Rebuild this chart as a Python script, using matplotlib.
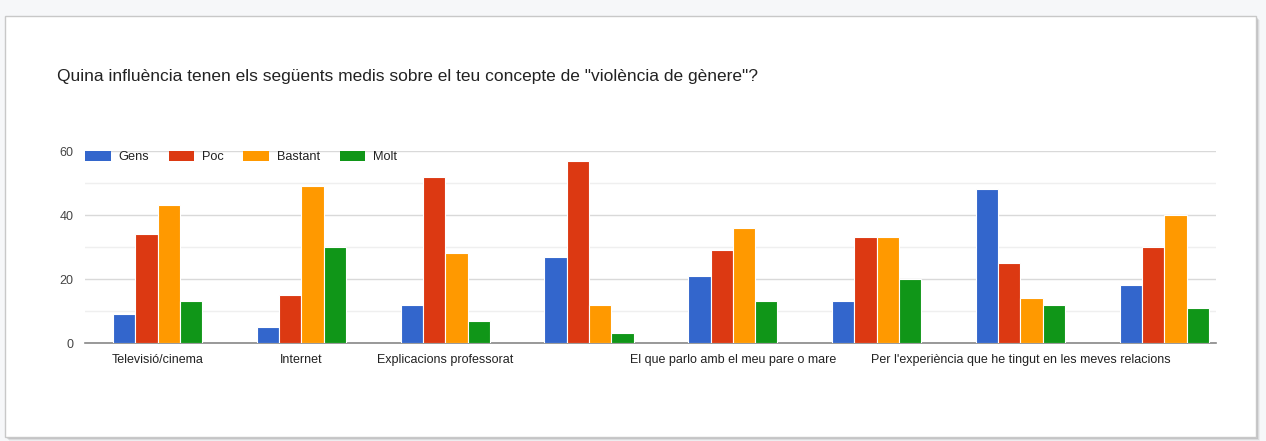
import numpy as np
import matplotlib
matplotlib.use('Agg')
import matplotlib.pyplot as plt
from matplotlib.patches import Rectangle, Patch

plt.rcParams['font.family'] = ['Liberation Sans', 'DejaVu Sans']

title = 'Quina influència tenen els següents medis sobre el teu concepte de "violència de gènere"?'
# only some category labels are shown on the original axis; hidden ones left blank
categories = ['Televisió/cinema', 'Internet', 'Explicacions professorat', '',
              'El que parlo amb el meu pare o mare', '',
              "Per l'experiència que he tingut en les meves relacions", '']
series = ['Gens', 'Poc', 'Bastant', 'Molt']
gens    = [9, 5, 12, 27, 21, 13, 48, 18]
poc     = [34, 15, 52, 57, 29, 33, 25, 30]
bastant = [43, 49, 28, 12, 36, 33, 14, 40]
molt    = [13, 30, 7, 3, 13, 20, 12, 11]
colors = ['#3366cc', '#dc3912', '#ff9900', '#109618']

W, H = 1266, 441
fig = plt.figure(figsize=(W / 100, H / 100), dpi=100)
fig.patch.set_facecolor('#f6f7f9')

# card with a soft shadow
for i, a in enumerate([0.10, 0.07, 0.04]):
    fig.patches.append(Rectangle(((6 + i + 1) / W, (441 - 439 - i) / H), 1251 / W, 421 / H,
                                 transform=fig.transFigure, facecolor='#000000',
                                 alpha=a, edgecolor='none', zorder=0))
fig.patches.append(Rectangle((5 / W, (441 - 437) / H), 1251 / W, 421 / H,
                             transform=fig.transFigure, facecolor='white',
                             edgecolor='#c8c8c8', lw=1, zorder=1))

fig.text(57 / W, 1 - 76 / H, title, fontsize=12.5, color='#222222', va='center', ha='left')

ax = fig.add_axes([85 / W, (441 - 343) / H, (1216 - 85) / W, (343 - 151) / H])
ax.set_zorder(5)
ax.set_facecolor('none')

x = np.arange(len(categories))
bw = 0.155
for k, (vals, c) in enumerate(zip([gens, poc, bastant, molt], colors)):
    ax.bar(x + (k - 1.5) * bw, vals, width=bw, color=c, edgecolor='white',
           linewidth=0.8, zorder=3)

ax.set_xlim(-0.505, 7.36)
ax.set_ylim(0, 60)
ax.set_yticks([0, 20, 40, 60])
ax.set_yticks([10, 30, 50], minor=True)
ax.grid(axis='y', which='major', color='#d9d9d9', lw=1, zorder=0)
ax.grid(axis='y', which='minor', color='#efefef', lw=1, zorder=0)
ax.tick_params(axis='y', which='both', length=0, labelsize=9, labelcolor='#444444', pad=8.5)
ax.set_xticks(x)
ax.set_xticklabels(categories, fontsize=9, color='#222222')
ax.tick_params(axis='x', length=0, pad=8)
for s in ['top', 'right', 'left']:
    ax.spines[s].set_visible(False)
ax.spines['bottom'].set_color('#888888')
ax.spines['bottom'].set_linewidth(1.2)

handles = [Patch(facecolor=c, edgecolor='none') for c in colors]
ax.legend(handles, series, loc='center left', bbox_to_anchor=(0.0, 0.97), ncol=4,
          frameon=False, fontsize=9.2, handlelength=2.0, handleheight=0.85,
          handletextpad=0.6, columnspacing=1.55, borderpad=0, borderaxespad=0,
          labelcolor='#222222')

fig.savefig('out.png', dpi=100, facecolor=fig.get_facecolor())
